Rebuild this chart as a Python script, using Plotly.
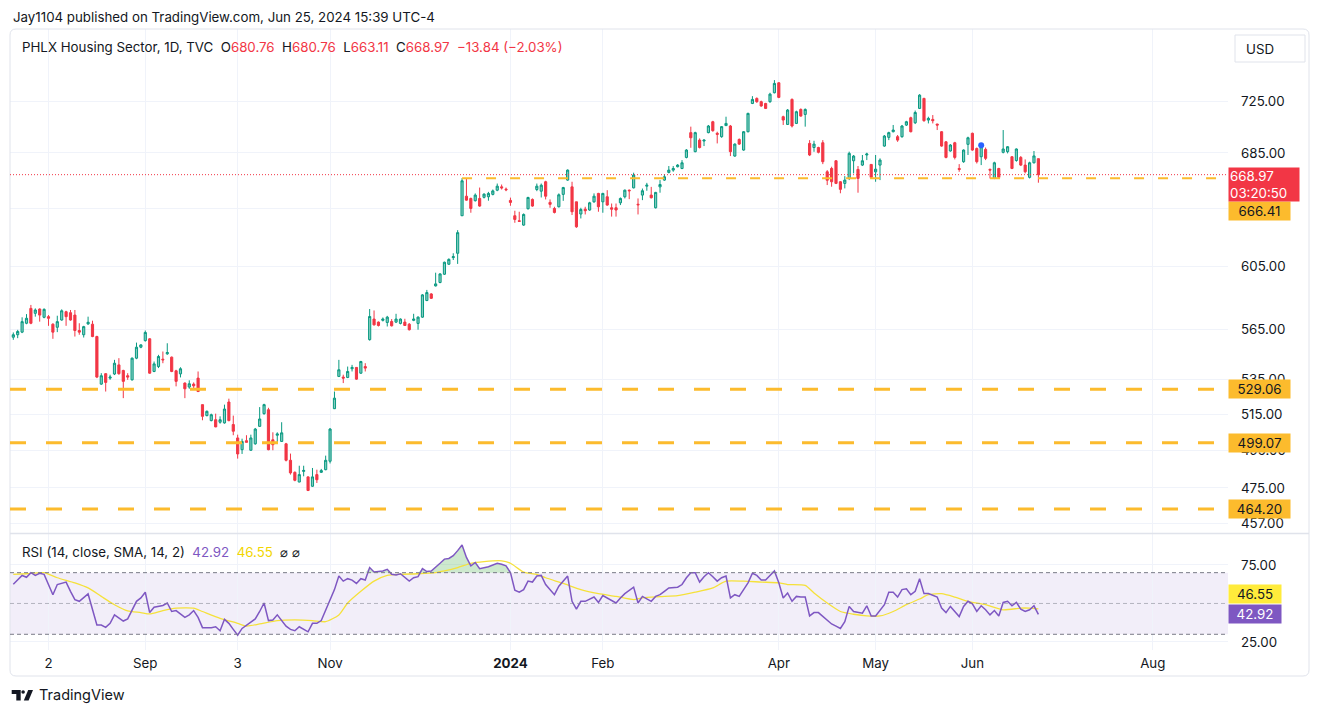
import math
import plotly.graph_objects as go

# ---------------- data ----------------
OPEN = [
560.1, 561.6, 563.2, 568.7, 578.0, 574.9, 577.6, 572.4, 572.8, 568.1,
566.2, 570.7, 575.9, 575.3, 573.8, 564.2, 561.6, 568.3, 568.1, 560.5,
532.1, 538.2, 535.6, 538.0, 543.4, 540.1, 537.0, 534.6, 547.4, 554.0,
558.0, 559.1, 539.5, 542.4, 546.8, 550.0, 548.0, 539.9, 538.1, 532.7,
530.4, 532.1, 535.6, 520.3, 514.1, 511.3, 511.8, 510.4, 510.0, 521.8,
509.1, 501.7, 495.3, 500.2, 495.0, 498.5, 508.1, 515.2, 517.4, 500.7,
503.2, 499.8, 498.5, 489.6, 483.2, 478.1, 483.7, 480.8, 475.9, 482.0,
483.2, 484.6, 489.1, 518.0, 536.6, 536.2, 536.0, 541.1, 541.9, 538.5,
542.4, 558.6, 571.3, 569.4, 570.5, 569.2, 569.8, 569.4, 568.6, 569.4,
568.1, 570.5, 568.6, 572.5, 583.0, 587.2, 592.4, 594.6, 600.0, 606.6,
611.0, 613.9, 639.6, 653.4, 651.8, 650.2, 651.8, 652.6, 653.0, 654.7,
657.7, 660.1, 658.5, 650.4, 639.6, 636.1, 633.1, 644.5, 651.1, 658.2,
657.0, 663.8, 649.0, 644.7, 645.9, 654.7, 665.0, 660.1, 649.4, 640.8,
644.2, 643.6, 649.4, 655.4, 649.4, 653.0, 645.2, 645.2, 648.7, 653.0,
657.7, 659.4, 647.7, 654.2, 660.6, 654.2, 645.2, 660.1, 665.0, 670.6,
672.3, 674.8, 673.5, 681.7, 700.4, 686.0, 694.7, 694.0, 700.4, 708.8,
699.9, 697.3, 705.8, 705.5, 682.7, 695.2, 687.2, 701.1, 723.1, 727.1,
724.5, 723.1, 724.5, 731.6, 739.6, 712.7, 706.7, 726.3, 707.5, 718.4,
714.5, 692.2, 689.1, 689.1, 692.7, 671.1, 673.5, 679.2, 663.8, 662.6,
666.2, 679.2, 672.8, 676.0, 683.5, 676.5, 671.0, 676.0, 690.2, 696.8,
701.1, 697.3, 697.3, 706.2, 711.9, 708.0, 719.2, 727.1, 710.1, 710.6,
707.0, 701.1, 693.4, 686.5, 692.7, 673.5, 678.5, 691.5, 699.9, 688.4,
682.2, 687.7, 672.8, 666.2, 673.5, 685.5, 686.0, 682.2, 679.4, 681.7,
676.0, 667.0, 677.7, 680.76]

HIGH = [
563.0, 564.6, 572.4, 574.4, 580.2, 578.0, 578.0, 578.0, 573.8, 568.7,
573.4, 577.4, 576.5, 577.0, 577.0, 568.7, 567.1, 572.8, 570.3, 561.0,
538.5, 538.5, 537.6, 546.4, 547.4, 540.5, 538.5, 547.8, 556.8, 555.8,
564.2, 559.5, 545.4, 549.4, 551.4, 556.4, 548.4, 540.5, 542.0, 533.1,
534.3, 533.1, 539.5, 520.3, 517.0, 515.2, 515.2, 513.7, 520.3, 523.7,
514.1, 503.5, 501.3, 503.2, 503.5, 507.2, 518.9, 520.8, 518.5, 504.8,
504.8, 510.4, 499.0, 493.2, 483.7, 486.7, 486.7, 481.1, 485.5, 484.6,
485.0, 492.1, 507.2, 527.8, 546.4, 537.6, 542.4, 543.4, 542.0, 545.8,
544.4, 577.6, 576.7, 569.8, 572.3, 573.3, 571.3, 574.6, 571.7, 571.5,
568.8, 574.6, 573.0, 587.1, 589.8, 587.7, 601.0, 600.6, 608.3, 610.5,
613.9, 629.6, 666.41, 666.1, 652.4, 655.4, 659.6, 655.4, 656.5, 658.2,
662.5, 661.8, 659.6, 652.4, 643.1, 642.4, 641.2, 653.0, 651.8, 662.5,
662.5, 664.5, 651.1, 645.9, 655.4, 660.1, 672.8, 663.8, 649.4, 645.2,
645.9, 649.4, 655.4, 655.8, 655.8, 657.7, 648.2, 648.2, 652.5, 658.2,
658.2, 670.4, 651.8, 658.9, 663.0, 660.1, 656.5, 665.0, 669.4, 675.3,
675.3, 676.7, 679.7, 687.9, 705.0, 701.1, 696.0, 695.2, 706.3, 709.5,
701.1, 705.5, 712.7, 706.3, 692.2, 696.0, 701.6, 715.8, 728.9, 727.9,
725.3, 723.6, 731.6, 741.8, 740.1, 713.5, 718.7, 727.1, 717.4, 719.2,
719.2, 694.7, 694.2, 689.7, 694.7, 672.3, 674.8, 679.7, 664.3, 667.9,
686.0, 683.5, 675.3, 683.5, 685.2, 676.7, 683.5, 681.0, 698.6, 701.1,
706.3, 698.6, 706.3, 709.5, 712.7, 717.5, 730.5, 727.6, 712.7, 714.0,
707.2, 701.6, 694.0, 691.7, 693.4, 676.7, 687.7, 697.3, 700.4, 689.1,
690.9, 689.1, 673.5, 678.5, 674.0, 702.4, 690.2, 682.7, 688.4, 682.7,
680.2, 678.5, 686.5, 680.76]

LOW = [
558.5, 559.5, 562.6, 568.1, 568.1, 572.8, 569.7, 571.8, 567.1, 559.1,
563.2, 570.3, 567.1, 570.3, 560.5, 561.6, 559.9, 567.7, 560.1, 535.6,
531.7, 527.8, 534.6, 537.4, 537.6, 524.0, 534.6, 534.2, 546.8, 553.4,
557.4, 538.2, 539.1, 541.5, 544.4, 549.4, 539.1, 530.8, 536.0, 524.0,
529.4, 528.8, 527.5, 511.5, 513.7, 510.9, 507.6, 509.6, 509.6, 510.9,
503.2, 490.5, 493.0, 499.3, 494.8, 498.0, 507.8, 514.6, 495.0, 495.0,
499.5, 499.5, 489.0, 482.0, 478.5, 478.0, 481.1, 473.4, 475.6, 477.6,
482.9, 484.3, 487.9, 517.8, 536.2, 532.7, 535.6, 539.5, 534.6, 538.1,
539.5, 558.0, 567.3, 566.7, 569.8, 566.7, 566.7, 568.8, 568.0, 567.3,
564.2, 570.0, 564.7, 572.1, 582.6, 584.0, 592.0, 594.1, 599.5, 606.1,
609.4, 606.8, 639.4, 650.2, 641.7, 649.6, 645.9, 651.8, 650.2, 654.0,
657.0, 658.2, 657.0, 646.6, 634.7, 635.4, 632.6, 644.0, 645.9, 657.0,
652.5, 651.1, 645.2, 641.2, 645.4, 650.1, 664.5, 640.1, 631.2, 637.7,
640.5, 643.1, 648.7, 642.4, 641.7, 646.6, 639.0, 639.0, 647.1, 651.8,
651.3, 659.0, 640.5, 650.6, 657.3, 651.8, 644.7, 655.9, 664.5, 669.9,
671.1, 674.3, 673.0, 681.0, 688.9, 685.5, 688.4, 690.2, 699.9, 701.1,
692.2, 696.5, 705.5, 682.7, 682.2, 691.0, 686.7, 700.6, 722.6, 723.6,
720.5, 718.7, 723.6, 731.1, 727.3, 706.3, 706.3, 704.4, 707.0, 712.7,
705.0, 682.7, 685.9, 684.7, 676.7, 661.4, 660.2, 662.1, 655.5, 659.0,
665.0, 669.9, 655.9, 675.3, 679.7, 666.2, 663.8, 665.0, 689.7, 694.7,
700.6, 693.4, 696.5, 705.5, 700.6, 707.0, 718.7, 708.8, 707.5, 707.5,
702.4, 689.7, 681.0, 686.0, 680.2, 671.1, 677.7, 683.5, 686.7, 677.2,
676.0, 679.7, 666.2, 665.7, 666.2, 684.7, 684.7, 673.0, 678.5, 675.3,
669.9, 666.2, 677.2, 663.11]

CLOSE = [
561.6, 563.6, 569.7, 571.8, 568.7, 577.0, 573.8, 577.4, 571.8, 563.2,
569.7, 576.5, 572.8, 570.7, 564.2, 563.2, 566.6, 569.3, 560.5, 536.2,
537.0, 533.1, 536.2, 544.4, 538.2, 533.7, 536.2, 547.4, 554.0, 555.4,
563.0, 538.5, 544.0, 548.4, 546.4, 550.8, 539.5, 533.7, 541.1, 529.4,
532.3, 531.1, 527.8, 513.7, 516.5, 514.6, 507.8, 511.8, 517.8, 511.3,
505.4, 493.0, 499.8, 499.3, 501.7, 506.6, 512.2, 520.3, 495.3, 498.0,
503.9, 504.5, 489.6, 482.9, 479.0, 482.0, 484.2, 473.7, 480.8, 479.3,
484.1, 489.6, 506.6, 524.0, 540.5, 535.6, 539.5, 541.9, 535.0, 545.4,
541.5, 572.9, 567.7, 567.3, 571.3, 572.5, 567.1, 571.3, 571.3, 567.3,
564.7, 571.3, 572.5, 586.6, 588.1, 584.4, 593.7, 600.2, 607.9, 609.8,
611.6, 627.9, 664.5, 650.6, 644.7, 654.2, 646.4, 654.9, 655.4, 657.2,
660.6, 659.4, 658.0, 649.0, 637.0, 635.7, 640.5, 652.5, 646.4, 660.6,
661.3, 653.4, 647.6, 641.9, 654.4, 659.6, 672.3, 642.4, 631.9, 644.0,
643.1, 648.7, 653.4, 645.9, 655.4, 647.1, 644.2, 643.6, 651.8, 657.7,
657.3, 668.7, 647.3, 657.3, 661.3, 652.3, 656.1, 661.8, 667.4, 672.3,
673.5, 676.0, 677.7, 687.2, 696.5, 700.4, 689.1, 694.7, 705.5, 701.9,
699.1, 705.0, 707.5, 686.0, 691.7, 691.7, 701.1, 715.3, 726.3, 724.5,
721.1, 719.2, 730.5, 739.1, 727.9, 710.1, 717.9, 705.5, 716.6, 713.2,
718.4, 683.5, 691.7, 685.5, 678.5, 664.9, 663.8, 662.6, 658.3, 665.0,
684.7, 682.7, 666.2, 679.2, 684.2, 667.0, 673.0, 679.7, 697.8, 700.4,
702.4, 694.7, 705.5, 708.8, 701.1, 716.0, 729.7, 709.6, 711.4, 709.6,
706.2, 690.2, 681.7, 691.0, 681.7, 672.8, 687.2, 696.5, 687.2, 678.5,
689.7, 681.0, 672.3, 677.7, 667.0, 688.0, 689.7, 673.5, 688.0, 676.0,
671.1, 677.7, 682.81, 668.97]

# RSI (14) read at bar indices
RSI_IDX = [0, 1, 2, 3, 4, 5, 6, 7, 9, 10, 12, 13, 14, 15, 17, 19, 20, 21, 22, 23,
           25, 26, 27, 28, 29, 30, 31, 32, 34, 35, 36, 37, 39, 40, 41, 42, 43, 45, 46, 47,
           48, 49, 50, 51, 52, 53, 55, 56, 57, 58, 59, 60, 62, 63, 64, 65, 67, 68, 69, 70,
           71, 73, 74, 75, 76, 77, 78, 79, 80, 81, 82, 84, 85, 86, 87, 88, 90, 91, 92, 93,
           94, 95, 97, 98, 99, 100, 101, 102, 103, 104, 105, 106, 108, 109, 110, 111, 112, 113, 114, 115,
           116, 117, 118, 119, 120, 121, 123, 124, 126, 127, 128, 129, 130, 132, 133, 134, 137, 138, 139, 141,
           142, 143, 145, 146, 147, 148, 149, 151, 152, 153, 154, 155, 156, 157, 158, 159, 160, 161, 162, 163,
           164, 165, 167, 168, 169, 170, 171, 173, 174, 175, 176, 177, 178, 179, 180, 181, 182, 183, 185, 186,
           187, 188, 189, 190, 191, 193, 194, 195, 196, 198, 199, 200, 201, 202, 203, 204, 205, 206, 207, 208,
           210, 211, 212, 213, 214, 215, 216, 217, 218, 219, 220, 221, 222, 223, 224, 225, 226, 227, 228, 229,
           230, 231, 232, 233]
RSI_VAL = [62.5, 65.6, 68.2, 67.0, 70.0, 68.2, 69.6, 68.9, 55.7, 62.3, 63.9, 57.9, 52.5, 51.4, 56.2, 36.0, 36.0, 34.5, 37.1, 42.6,
           38.6, 40.0, 45.2, 51.4, 53.6, 57.3, 44.1, 47.6, 48.7, 50.3, 44.8, 45.4, 41.0, 42.6, 45.4, 41.0, 34.3, 34.3, 34.9, 32.3,
           39.7, 37.1, 33.2, 29.4, 33.8, 36.0, 40.0, 44.8, 50.3, 38.9, 39.3, 42.6, 35.3, 33.2, 32.3, 34.9, 31.6, 37.1, 37.1, 38.9,
           45.9, 59.0, 67.8, 64.5, 66.1, 65.2, 63.0, 66.1, 65.2, 73.3, 70.4, 71.1, 72.2, 68.9, 68.5, 69.3, 64.5, 66.7, 67.4, 72.6,
           70.7, 71.1, 76.1, 78.8, 79.2, 81.0, 84.3, 88.0, 79.9, 74.4, 76.6, 72.6, 73.9, 74.8, 76.1, 75.5, 74.4, 70.0, 58.6, 57.3,
           59.0, 64.5, 63.9, 67.8, 68.2, 62.3, 55.7, 61.2, 67.8, 51.4, 46.3, 51.4, 51.4, 54.2, 50.7, 55.1, 50.3, 53.6, 56.4, 60.6,
           50.3, 54.6, 51.4, 54.6, 55.7, 57.9, 60.1, 60.6, 62.3, 66.7, 70.0, 70.0, 63.9, 67.4, 70.0, 67.4, 64.5, 66.7, 67.8, 53.6,
           55.7, 54.6, 63.4, 69.6, 68.2, 65.2, 65.2, 71.1, 63.4, 53.6, 56.8, 51.4, 54.6, 54.2, 54.2, 41.9, 44.1, 44.1, 39.3, 36.7,
           35.3, 33.8, 38.2, 48.1, 44.8, 43.7, 48.5, 41.9, 41.9, 49.2, 57.3, 57.3, 54.2, 59.0, 59.5, 55.7, 57.9, 66.1, 56.4, 56.4,
           54.2, 47.0, 44.1, 48.1, 44.8, 41.5, 48.1, 51.4, 49.8, 44.8, 48.5, 45.9, 42.6, 45.4, 41.9, 50.7, 51.4, 48.5, 50.7, 46.3,
           44.8, 45.9, 48.5, 42.92]

# SMA(14) of RSI, read at bar indices
SMA_IDX = [0, 3, 7, 10, 14, 17, 20, 23, 26, 29, 31, 34, 37, 41, 43, 47, 51, 53, 56, 60,
           64, 68, 71, 74, 76, 79, 82, 85, 88, 92, 96, 98, 101, 104, 107, 111, 113, 116, 119, 121,
           125, 129, 133, 137, 141, 143, 147, 151, 155, 159, 162, 166, 170, 174, 176, 180, 182, 185, 188, 191,
           194, 197, 200, 203, 206, 208, 211, 214, 217, 221, 225, 229, 231, 233]
SMA_VAL = [68.9, 69.3, 70.0, 66.7, 63.4, 60.1, 54.6, 49.2, 45.2, 44.1, 43.2, 45.4, 47.0, 47.0, 44.8, 40.4, 37.1, 35.3, 36.7, 38.9,
           39.3, 38.9, 38.2, 42.6, 50.3, 57.9, 64.5, 68.2, 68.9, 69.3, 70.0, 71.1, 73.3, 76.1, 77.2, 77.7, 76.1, 70.4, 68.9, 66.7,
           63.0, 59.0, 56.4, 54.6, 52.5, 53.6, 54.4, 55.1, 57.3, 60.1, 64.5, 64.5, 63.9, 63.4, 62.3, 61.7, 56.8, 50.3, 44.8, 43.0,
           41.9, 41.9, 44.8, 49.2, 52.9, 55.7, 56.4, 54.2, 51.4, 49.2, 45.9, 47.0, 47.0, 46.55]

LEVELS = [529.06, 499.07, 464.20]
RAY_LEVEL = 666.41
RAY_START = 102
EVENT_IDX = [220]

PRICE_TICKS = [457, 475, 495, 515, 535, 565, 605, 645, 685, 725]
PRICE_TICK_TXT = ["457.00", "475.00", "495.00", "515.00", "535.00", "565.00",
                  "605.00", "", "685.00", "725.00"]
RSI_TICKS = [25, 75]
TICK_IDX = [8, 30, 51, 72, 113, 134, 174, 196, 218, 259]
TICK_TXT = ["2", "Sep", "3", "Nov", "<b>2024</b>", "Feb", "Apr", "May", "Jun", "Aug"]

HEADER = "Jay1104 published on TradingView.com, Jun 25, 2024 15:39 UTC-4"
TITLE = "PHLX Housing Sector, 1D, TVC"
COUNTDOWN = "03:20:50"

# ---------------- style ----------------
OFF = 8                                  # page body margin of the browser
W, H = 1320 - OFF, 715 - OFF
PL, PR, PT, PB = 10, 1228, 29, 650       # plot area in page pixels
X_MIN, X_MAX = -0.75, 276.1
P_BOT, P_TOP = 452.2, 784.4
R_BOT, R_TOP = 19.8, 95.1
UP = "#089981"
DOWN = "#f23645"
GOLD = "#fcbb2d"
PURPLE = "#7e57c2"
YEL = "#f5e13a"
GRID = "#f0f3fa"
TXT = "#131722"
BORDER = "#e0e3eb"
FONT = "Inter, Roboto, sans-serif"
FS = 13.3


def px(x):
    return (x - PL) / (PR - PL)


def py(y):
    return (PB - y) / (PB - PT)


MAIN_DOM = [py(533), 1.0]
RSI_DOM = [0.0, py(534)]

fig = go.Figure()

fig.add_trace(go.Candlestick(
    x=list(range(len(CLOSE))), open=OPEN, high=HIGH, low=LOW, close=CLOSE,
    increasing=dict(line=dict(color=UP, width=1), fillcolor="rgba(8,153,129,0.5)"),
    decreasing=dict(line=dict(color=DOWN, width=1), fillcolor=DOWN),
    whiskerwidth=0, xaxis="x", yaxis="y", hoverinfo="skip", showlegend=False))

fig.add_trace(go.Scatter(
    x=EVENT_IDX, y=[HIGH[i] for i in EVENT_IDX], mode="markers",
    marker=dict(color="#2962ff", size=6), xaxis="x", yaxis="y",
    hoverinfo="skip", showlegend=False))

# RSI overbought fill
fig.add_trace(go.Scatter(x=RSI_IDX, y=[70] * len(RSI_IDX), mode="lines",
                         line=dict(width=0), xaxis="x2", yaxis="y2",
                         hoverinfo="skip", showlegend=False))
fig.add_trace(go.Scatter(x=RSI_IDX, y=[max(v, 70) for v in RSI_VAL], mode="lines",
                         line=dict(width=0), fill="tonexty",
                         fillcolor="rgba(76,175,80,0.28)", xaxis="x2", yaxis="y2",
                         hoverinfo="skip", showlegend=False))
fig.add_trace(go.Scatter(x=SMA_IDX, y=SMA_VAL, mode="lines",
                         line=dict(color=YEL, width=1.3, shape="spline", smoothing=0.6),
                         xaxis="x2", yaxis="y2", hoverinfo="skip", showlegend=False))
fig.add_trace(go.Scatter(x=RSI_IDX, y=RSI_VAL, mode="lines",
                         line=dict(color=PURPLE, width=1.5),
                         xaxis="x2", yaxis="y2", hoverinfo="skip", showlegend=False))

shapes = []
# outer frame with rounded corners
x0, x1, y0, y1 = px(10), px(1309), py(676), py(29)
rx, ry = 6 / (PR - PL), 6 / (PB - PT)
shapes.append(dict(type="path", xref="paper", yref="paper", layer="above",
                   path=(f"M {x0+rx},{y1} L {x1-rx},{y1} Q {x1},{y1} {x1},{y1-ry} "
                         f"L {x1},{y0+ry} Q {x1},{y0} {x1-rx},{y0} L {x0+rx},{y0} "
                         f"Q {x0},{y0} {x0},{y0+ry} L {x0},{y1-ry} Q {x0},{y1} {x0+rx},{y1} Z"),
                   line=dict(color=BORDER, width=1)))
# pane separator
shapes.append(dict(type="line", xref="paper", yref="paper", x0=x0, x1=x1,
                   y0=py(533.5), y1=py(533.5), line=dict(color=BORDER, width=1.5)))
# RSI band
shapes.append(dict(type="rect", xref="paper", yref="y2", x0=0, x1=1, y0=30, y1=70,
                   fillcolor="rgba(126,87,194,0.1)", line=dict(width=0), layer="below"))
for lv, op in [(70, 1.0), (50, 0.5), (30, 1.0)]:
    shapes.append(dict(type="line", xref="paper", yref="y2", x0=0, x1=1, y0=lv, y1=lv,
                       line=dict(color=f"rgba(120,123,134,{op})", width=1, dash="4px,3px")))
# horizontal support levels
for lv in LEVELS:
    shapes.append(dict(type="line", xref="paper", yref="y", x0=0, x1=1, y0=lv, y1=lv,
                       line=dict(color=GOLD, width=3, dash="16px,20px")))
shapes.append(dict(type="line", xref="x", yref="y", x0=RAY_START, x1=X_MAX,
                   y0=RAY_LEVEL, y1=RAY_LEVEL,
                   line=dict(color=GOLD, width=2, dash="10px,14px")))
shapes.append(dict(type="line", xref="paper", yref="y", x0=0, x1=1,
                   y0=CLOSE[-1], y1=CLOSE[-1],
                   line=dict(color=DOWN, width=1, dash="1px,2px")))
# USD button
shapes.append(dict(type="rect", xref="paper", yref="paper", x0=px(1235), x1=px(1305),
                   y0=py(62), y1=py(35), line=dict(color=BORDER, width=1),
                   fillcolor="white"))
# TradingView logo
shapes.append(dict(type="path", xref="paper", yref="paper", fillcolor=TXT,
                   line=dict(width=0),
                   path=(f"M {px(11.7)},{py(690)} L {px(20.7)},{py(690)} L {px(20.7)},{py(700.5)} "
                         f"L {px(16.3)},{py(700.5)} L {px(16.3)},{py(694)} L {px(11.7)},{py(694)} Z")))
shapes.append(dict(type="circle", xref="paper", yref="paper", fillcolor=TXT,
                   line=dict(width=0), x0=px(21.3), x1=px(24.9), y0=py(693.8), y1=py(690.2)))
shapes.append(dict(type="path", xref="paper", yref="paper", fillcolor=TXT,
                   line=dict(width=0),
                   path=(f"M {px(28.2)},{py(690)} L {px(33)},{py(690)} L {px(28.6)},{py(700.5)} "
                         f"L {px(23.8)},{py(700.5)} Z")))

red = f"style='color:{DOWN}'"
chg = CLOSE[-1] - CLOSE[-2]
pct = chg / CLOSE[-2] * 100
legend = (f"{TITLE}&nbsp;&nbsp;O<span {red}>{OPEN[-1]:.2f}</span>&nbsp;&nbsp;"
          f"H<span {red}>{HIGH[-1]:.2f}</span>&nbsp;&nbsp;L<span {red}>{LOW[-1]:.2f}</span>&nbsp;&nbsp;"
          f"C<span {red}>{CLOSE[-1]:.2f}</span>&nbsp;&nbsp;"
          f"<span {red}>{chg:+.2f} ({pct:+.2f}%)</span>").replace("-", "−")
rsi_legend = (f"RSI (14, close, SMA, 14, 2)&nbsp;&nbsp;<span style='color:{PURPLE}'>{RSI_VAL[-1]:.2f}</span>"
              f"&nbsp;&nbsp;<span style='color:#f2d600'>{SMA_VAL[-1]:.2f}</span>&nbsp;&nbsp;⌀&nbsp;⌀")

ann = [
    dict(x=px(12), y=py(8), xref="paper", yref="paper", text=HEADER, showarrow=False,
         xanchor="left", yanchor="top", borderpad=0, font=dict(size=13.3, color=TXT)),
    dict(x=px(20), y=py(47), xref="paper", yref="paper", text=legend, showarrow=False,
         xanchor="left", yanchor="middle", font=dict(size=FS, color=TXT)),
    dict(x=px(20), y=py(552), xref="paper", yref="paper", text=rsi_legend, showarrow=False,
         xanchor="left", yanchor="middle", font=dict(size=FS, color=TXT)),
    dict(x=px(1244), y=py(48.5), xref="paper", yref="paper", text="USD", showarrow=False,
         xanchor="left", yanchor="middle", font=dict(size=FS, color=TXT)),
    dict(x=px(37), y=py(695), xref="paper", yref="paper", text="TradingView", showarrow=False,
         xanchor="left", yanchor="middle", font=dict(size=14.5, color=TXT)),
]
for lv in LEVELS:
    ann.append(dict(x=1, xref="paper", y=math.log10(lv), yref="y", text=f"{lv:.2f}",
                    showarrow=False, xanchor="left", yanchor="middle", bgcolor=GOLD,
                    width=59, height=16, borderpad=1, font=dict(size=FS, color=TXT)))
ann.append(dict(x=1, xref="paper", y=math.log10(RAY_LEVEL), yref="y", text=f"{RAY_LEVEL:.2f}",
                showarrow=False, xanchor="left", yanchor="top", yshift=-23, bgcolor=GOLD,
                width=59, height=16, borderpad=1, font=dict(size=FS, color=TXT)))
ann.append(dict(x=1, xref="paper", y=math.log10(CLOSE[-1]), yref="y",
                text=f"{CLOSE[-1]:.2f}<br>{COUNTDOWN}", align="left",
                showarrow=False, xanchor="left", yanchor="top", yshift=8, bgcolor=DOWN,
                width=68, height=31, borderpad=1, font=dict(size=FS, color="white")))
ann.append(dict(x=1, xref="paper", y=SMA_VAL[-1], yref="y2", text=f"{SMA_VAL[-1]:.2f}",
                showarrow=False, xanchor="left", yanchor="middle", yshift=15, bgcolor="#ffeb3b",
                width=50, height=16, borderpad=1, font=dict(size=FS, color=TXT)))
ann.append(dict(x=1, xref="paper", y=RSI_VAL[-1], yref="y2", text=f"{RSI_VAL[-1]:.2f}",
                showarrow=False, xanchor="left", yanchor="middle", bgcolor=PURPLE,
                width=50, height=16, borderpad=1, font=dict(size=FS, color="white")))

fig.update_layout(
    width=W, height=H, paper_bgcolor="white", plot_bgcolor="white",
    margin=dict(l=PL - OFF, r=W - (PR - OFF), t=PT - OFF, b=H - (PB - OFF)),
    font=dict(family=FONT, color=TXT, size=13),
    showlegend=False, shapes=shapes, annotations=ann,
    xaxis=dict(domain=[0, 1], range=[X_MIN, X_MAX], anchor="y", tickvals=TICK_IDX,
               showticklabels=False, showgrid=True, gridcolor=GRID, zeroline=False,
               rangeslider=dict(visible=False), ticks=""),
    xaxis2=dict(domain=[0, 1], range=[X_MIN, X_MAX], anchor="y2", matches="x",
                tickvals=TICK_IDX, ticktext=TICK_TXT, showgrid=True, gridcolor=GRID,
                zeroline=False, ticks="", tickfont=dict(size=FS, color=TXT),
                ticklabelstandoff=4),
    yaxis=dict(domain=MAIN_DOM, type="log", range=[math.log10(P_BOT), math.log10(P_TOP)],
               side="right", anchor="x", tickvals=PRICE_TICKS,
               ticktext=PRICE_TICK_TXT, showgrid=True, gridcolor=GRID,
               zeroline=False, ticks="", tickfont=dict(size=FS, color=TXT),
               ticklabelstandoff=12),
    yaxis2=dict(domain=RSI_DOM, range=[R_BOT, R_TOP], side="right", anchor="x2",
                tickvals=RSI_TICKS, ticktext=[f"{v:.2f}" for v in RSI_TICKS],
                showgrid=True, gridcolor=GRID, zeroline=False, ticks="",
                tickfont=dict(size=FS, color=TXT), ticklabelstandoff=12),
)

fig.write_html("out.html")
